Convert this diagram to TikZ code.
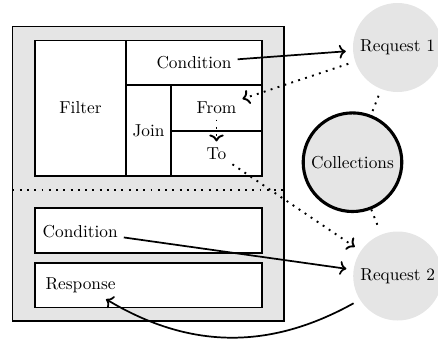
\documentclass[tikz,border=0pt]{standalone}
\usetikzlibrary{arrows.meta}
\def\pxu{0.578pt}
\begin{document}
\begin{tikzpicture}[x=\pxu,y=-\pxu,
  cell/.style={draw, line width=1.1pt, fill=white},
  outerbox/.style={draw, line width=1.1pt, fill=black!10},
  lbl/.style={inner sep=3.33pt},
  req/.style={circle, minimum size=103*\pxu, inner sep=0pt},
  reqfill/.style={fill=black!10},
  collnode/.style={circle, draw, line width=1.8pt, fill=black!10, minimum size=98.6*\pxu, inner sep=0pt},
  arr/.style={->, line width=1pt},
  dots/.style={line width=1.1pt, dash pattern=on 1.1pt off 3.1pt},
  darr/.style={dots, ->}]
\useasboundingbox (0,0) rectangle (438,340);
% outer box
\draw[outerbox] (12.5,26.5) rectangle (284.3,320.7);
% top block cells
\draw[cell] (35,40.5) rectangle (262,176);
\draw[line width=1.1pt] (126,40.5) -- (126,176);
\draw[line width=1.1pt] (126,85) -- (262,85);
\draw[line width=1.1pt] (171,85) -- (171,176);
\draw[line width=1.1pt] (171,130.7) -- (262,130.7);
% separator
\draw[dots] (12.5,190) -- (284.3,190);
% bottom cells
\draw[cell] (35,208.3) rectangle (262,252.7);
\draw[cell] (35,263.3) rectangle (262,307.5);
% circle fills
\fill[reqfill] (397.5,47.5) circle (44.5);
\fill[reqfill] (397.7,276) circle (44.5);
% text nodes
\node[lbl] (filter) at (80.5,108) {Filter};
\node[lbl] (cond1) at (194,62.5) {Condition};
\node[lbl] (join) at (148.5,130.5) {Join};
\node[lbl] (from) at (216.5,107.5) {From};
\node[lbl] (to) at (216.5,153.5) {To};
\node[lbl, anchor=west] (cond2) at (36.6,231.3) {Condition};
\node[lbl, anchor=west] (resp) at (39.4,285.5) {Response};
% circles
\node[req] (r1) at (397.5,47.5) {Request 1};
\node[req] (r2) at (397.7,276) {Request 2};
\node[collnode] (coll) at (352.5,162.2) {Collections};
% connectors
\draw[arr] (cond1) -- (r1);
\draw[darr] (r1) -- (from);
\draw[darr] (from) -- (to);
\draw[darr] (to) -- (r2);
\draw[dots] (r1) -- (coll);
\draw[dots] (coll) -- (r2);
\draw[arr] (cond2) -- (r2);
\draw[arr] (r2) to[bend left=30] (resp);
\end{tikzpicture}
\end{document}
